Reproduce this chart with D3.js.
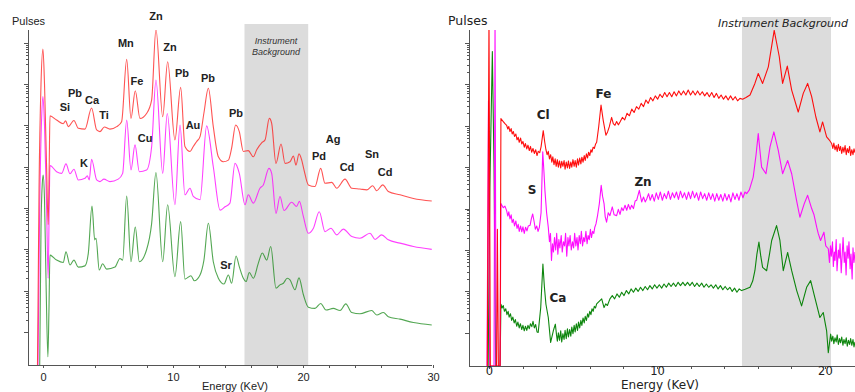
<!DOCTYPE html>
<html>
<head>
<meta charset="utf-8">
<script src="https://cdn.jsdelivr.net/npm/d3@7"></script>
<style>
  body { margin: 0; background: #fff; }
  svg { display: block; }
  .axis path, .axis line { stroke: #555; shape-rendering: crispEdges; }
  .spec { fill: none; stroke-linejoin: round; }
</style>
</head>
<body>
<script>
// spectra: [energy keV, log10 of pulses]
var leftRed = [[-0.42,0.2],[-0.3,4.5],[-0.15,7.0],[0,7.85],[0.12,7.0],[0.28,5.0],[0.4,3.6],[0.48,5.0],
  [0.54,6.23],[1.05,6.13],[1.56,6.04],[1.74,6.11],[1.95,5.97],[2.38,6.12],[2.72,5.93],[3.23,5.91],[3.74,6.42],
  [4.13,5.89],[4.38,5.85],[4.72,5.96],[5.15,5.91],[5.67,5.97],[6.05,6.09],[6.44,7.60],[6.77,6.17],[7.10,6.84],
  [7.46,6.17],[7.97,6.29],[8.36,6.62],[8.69,8.33],[9.21,6.21],[9.59,7.54],[10.15,5.65],[10.59,6.92],[10.92,5.49],
  [11.31,5.37],[11.56,5.49],[11.82,5.61],[12.08,5.73],[12.38,6.30],[12.72,6.90],[13.10,5.97],[13.49,5.24],
  [13.87,5.12],[14.26,5.16],[14.51,5.45],[14.82,6.01],[15.10,5.85],[15.41,5.37],[15.79,5.39],[16.18,5.24],
  [16.44,5.41],[16.82,5.58],[17.08,5.65],[17.41,6.17],[17.59,6.05],[17.92,5.08],[18.31,5.55],[18.62,5.08],
  [19.0,5.12],[19.26,5.26],[19.46,5.04],[19.69,5.31],[19.90,5.16],[20.08,4.92],[20.41,4.56],[20.92,4.52],
  [21.36,4.96],[21.69,4.60],[22.21,4.62],[22.59,4.48],[23.23,4.70],[23.75,4.48],[24.38,4.46],[24.90,4.44],
  [25.36,4.54],[25.67,4.42],[26.13,4.56],[26.56,4.40],[27.46,4.32],[28.49,4.23],[29.9,4.17]];

var leftMagenta = [[-0.38,0.2],[-0.25,4.0],[-0.1,6.2],[0,6.7],[0.12,6.0],[0.28,4.0],[0.4,2.3],[0.48,4.0],
  [0.54,5.03],[1.05,4.88],[1.44,4.84],[1.77,5.07],[2.08,4.83],[2.38,4.94],[2.72,4.68],[3.23,4.72],[3.41,4.78],
  [3.56,4.68],[3.74,5.18],[4.13,4.68],[4.38,4.64],[4.69,4.70],[5.15,4.64],[5.79,4.70],[6.13,4.84],[6.44,6.13],
  [6.77,4.92],[7.08,5.53],[7.41,4.88],[7.97,4.92],[8.36,5.49],[8.69,7.10],[9.21,4.84],[9.56,6.29],[10.15,4.08],
  [10.54,6.01],[10.92,4.32],[11.31,4.48],[11.56,4.28],[12.08,4.20],[12.59,5.99],[13.10,5.00],[13.62,3.95],
  [14.0,4.03],[14.38,4.12],[14.77,5.08],[15.10,4.84],[15.54,4.08],[15.79,4.32],[16.18,4.12],[16.69,4.48],
  [16.95,4.56],[17.38,4.96],[17.59,4.84],[17.92,3.87],[18.23,4.28],[18.54,3.94],[19.13,4.14],[19.51,4.04],
  [19.72,4.16],[20.03,3.79],[20.41,3.39],[20.8,3.51],[21.25,3.91],[21.69,3.43],[22.15,3.51],[22.59,3.35],
  [23.1,3.49],[23.75,3.31],[24.38,3.27],[25.15,3.39],[25.54,3.24],[26.05,3.35],[26.56,3.23],[27.46,3.15],
  [28.49,3.07],[29.9,3.00]];

var leftGreen = [[-0.25,0.2],[-0.15,3.5],[-0.05,4.6],[0.02,4.8],[0.12,4.2],[0.25,2.0],[0.38,0.4],[0.46,1.5],
  [0.54,2.86],[1.05,2.74],[1.56,2.68],[1.77,2.94],[2.08,2.62],[2.38,2.74],[2.72,2.57],[3.23,2.60],[3.49,2.91],
  [3.77,4.05],[3.98,3.23],[4.08,3.27],[4.33,2.50],[4.59,2.65],[4.90,2.52],[5.54,2.57],[5.92,2.78],[6.13,2.74],
  [6.44,4.29],[6.77,2.70],[7.10,3.54],[7.41,2.70],[7.97,2.99],[8.36,3.63],[8.69,4.86],[9.21,2.70],[9.59,4.08],
  [10.15,2.34],[10.59,3.67],[10.92,2.28],[11.38,2.36],[11.64,2.24],[12.08,2.38],[12.38,2.74],[12.72,3.63],
  [13.10,2.70],[13.49,2.30],[13.92,2.16],[14.26,2.38],[14.51,2.18],[14.85,2.84],[15.10,2.58],[15.41,2.30],
  [15.62,2.22],[15.87,2.44],[16.18,2.30],[16.56,2.66],[16.87,2.91],[17.21,2.74],[17.52,3.07],[17.92,2.06],
  [18.23,2.14],[18.49,2.18],[18.79,2.30],[19.0,2.26],[19.38,2.02],[19.69,2.31],[20.03,1.90],[20.41,1.60],
  [20.92,1.57],[21.36,1.69],[21.77,1.53],[22.33,1.57],[22.85,1.52],[23.29,1.68],[23.75,1.47],[24.38,1.44],
  [25.28,1.52],[25.67,1.41],[26.18,1.47],[26.56,1.37],[27.46,1.31],[28.49,1.23],[29.9,1.17]];

var rightRed = [[-0.1,0.2],[0,8.6],[0.08,0.2],[0.45,0.2],[0.5,3.5],[0.56,0.2],[0.66,0.2],
  [0.71,6.17],[0.85,6.1],[0.95,6.05],[1.05,6.01],[1.12,5.92],[1.18,5.98],[1.25,5.86],[1.32,5.93],[1.38,5.8],
  [1.45,5.86],[1.52,5.74],[1.6,5.8],[1.67,5.66],[1.74,5.72],[1.8,5.6],[1.88,5.7],[1.95,5.56],[2.02,5.62],
  [2.1,5.48],[2.17,5.57],[2.25,5.44],[2.32,5.53],[2.4,5.4],[2.47,5.5],[2.54,5.36],[2.62,5.45],[2.7,5.33],
  [2.78,5.42],[2.86,5.28],[2.93,5.38],[3.02,5.35],[3.1,5.49],[3.23,5.88],[3.32,5.6],[3.39,5.42],[3.46,5.3],
  [3.53,5.38],[3.6,5.2],[3.67,5.3],[3.74,5.12],[3.8,5.25],[3.87,5.06],[3.94,5.2],[4.0,5.02],[4.07,5.18],
  [4.13,5.0],[4.2,5.15],[4.27,4.98],[4.33,5.14],[4.4,5.02],[4.47,5.16],[4.53,4.95],[4.6,5.12],[4.67,4.98],
  [4.73,5.15],[4.8,4.97],[4.87,5.12],[4.93,5.0],[5.0,5.18],[5.07,5.02],[5.13,5.16],[5.2,5.0],[5.27,5.2],
  [5.33,5.05],[5.4,5.22],[5.47,5.08],[5.53,5.24],[5.6,5.12],[5.67,5.28],[5.73,5.16],[5.8,5.32],[5.87,5.22],
  [5.93,5.36],[6.0,5.28],[6.07,5.42],[6.13,5.36],[6.2,5.48],[6.27,5.45],[6.34,5.55],[6.41,5.6],
  [6.53,5.97],[6.67,6.50],[6.8,6.13],[6.96,5.77],[7.06,5.85],[7.16,5.97],[7.30,6.20],[7.4,6.05],[7.5,6.01],
  [7.6,6.1],[7.7,6.02],[7.8,6.09],[7.94,6.2],[8.08,6.14],[8.22,6.3],[8.36,6.24],[8.5,6.4],[8.64,6.32],
  [8.78,6.46],[8.92,6.4],[9.06,6.54],[9.2,6.46],[9.34,6.62],[9.48,6.54],[9.62,6.68],[9.76,6.6],[9.9,6.72],
  [10.04,6.64],[10.18,6.76],[10.32,6.68],[10.46,6.8],[10.6,6.7],[10.74,6.8],[10.88,6.7],[11.02,6.82],
  [11.16,6.72],[11.3,6.84],[11.44,6.74],[11.58,6.84],[11.72,6.74],[11.86,6.86],[12.0,6.74],[12.14,6.84],
  [12.28,6.74],[12.42,6.84],[12.56,6.74],[12.7,6.82],[12.84,6.72],[12.98,6.8],[13.12,6.7],[13.26,6.8],
  [13.4,6.68],[13.54,6.78],[13.68,6.66],[13.82,6.74],[13.96,6.64],[14.1,6.72],[14.24,6.62],[14.38,6.72],
  [14.52,6.62],[14.66,6.7],[14.8,6.6],[14.94,6.66],[15.1,6.64],[15.3,6.68],
  [15.54,6.74],[15.83,7.02],[16.03,7.26],[16.29,7.02],[16.63,7.42],
  [16.98,8.30],[17.28,7.67],[17.48,7.02],[17.76,7.44],[18.02,6.86],[18.41,6.33],[18.71,6.78],[18.97,7.02],
  [19.21,6.70],[19.46,6.21],[19.70,5.85],[19.86,6.09],[20.1,5.73],[20.25,5.66],
  [20.4,5.57],[20.47,5.45],[20.53,5.58],[20.6,5.42],[20.67,5.52],[20.73,5.38],[20.8,5.55],[20.87,5.4],
  [20.93,5.5],[21.0,5.33],[21.07,5.48],[21.13,5.36],[21.2,5.52],[21.27,5.3],[21.33,5.45],[21.4,5.35],
  [21.47,5.5],[21.53,5.28],[21.6,5.42],[21.67,5.3],[21.73,5.44],[21.79,5.35]];

var rightMagenta = [[-0.12,0.2],[-0.03,6.6],[0.04,0.2],[0.3,0.2],[0.36,8.6],[0.42,0.2],[0.66,0.2],
  [0.71,4.12],[0.85,4.02],[0.95,4.06],[1.05,3.95],[1.12,3.82],[1.18,3.92],[1.25,3.75],[1.32,3.85],[1.38,3.66],
  [1.45,3.74],[1.52,3.58],[1.6,3.7],[1.67,3.52],[1.74,3.62],[1.8,3.45],[1.88,3.58],[1.95,3.44],[2.02,3.56],
  [2.1,3.4],[2.18,3.55],[2.26,3.46],[2.34,3.58],[2.45,3.6],[2.52,3.75],[2.6,3.87],[2.68,3.7],[2.76,3.5],
  [2.84,3.58],[2.92,3.45],[3.0,3.55],[3.1,3.9],[3.2,5.37],[3.27,4.9],[3.33,4.44],[3.43,3.9],
  [3.53,3.55],[3.6,3.2],[3.66,3.4],[3.72,2.75],[3.78,3.15],[3.84,2.95],[3.9,3.3],[3.97,3.0],[4.03,3.4],
  [4.1,2.9],[4.16,3.25],[4.22,3.05],[4.3,3.35],[4.36,2.95],[4.43,3.2],[4.5,3.1],[4.56,3.4],[4.63,2.85],
  [4.7,3.3],[4.76,3.1],[4.83,3.35],[4.9,3.0],[4.97,3.2],[5.04,3.05],[5.1,3.4],[5.17,3.1],[5.24,3.3],[5.3,3.0],
  [5.37,3.35],[5.44,3.15],[5.5,3.45],[5.57,3.1],[5.64,3.3],[5.7,3.2],[5.77,3.45],[5.84,3.15],[5.9,3.35],
  [5.97,3.25],[6.04,3.5],[6.1,3.3],[6.17,3.45],[6.24,3.4],[6.3,3.55],[6.37,3.63],[6.47,3.85],[6.57,4.12],
  [6.68,4.56],[6.76,4.3],[6.85,4.12],[6.92,3.8],[7.0,3.67],[7.1,3.9],[7.2,3.83],[7.34,4.04],[7.45,3.85],
  [7.6,3.83],[7.7,3.98],[7.8,3.86],[7.9,4.02],[7.99,3.95],[8.1,4.08],[8.2,3.96],[8.3,4.1],[8.4,3.98],
  [8.49,4.08],[8.6,4.0],[8.7,4.18],[8.79,4.20],[8.95,4.44],[9.09,4.16],[9.2,4.28],[9.3,4.16],
  [9.39,4.23],[9.5,4.36],[9.6,4.2],[9.72,4.34],[9.84,4.18],[9.96,4.38],[10.08,4.22],[10.2,4.4],[10.32,4.2],
  [10.44,4.36],[10.56,4.24],[10.68,4.42],[10.8,4.22],[10.92,4.38],[11.04,4.26],[11.16,4.4],[11.28,4.22],
  [11.4,4.42],[11.52,4.26],[11.64,4.38],[11.76,4.22],[11.88,4.4],[12.0,4.24],[12.12,4.42],[12.24,4.26],
  [12.36,4.38],[12.48,4.2],[12.6,4.4],[12.72,4.24],[12.84,4.36],[12.96,4.2],[13.08,4.38],[13.2,4.22],
  [13.32,4.36],[13.44,4.18],[13.56,4.36],[13.68,4.2],[13.8,4.34],[13.92,4.18],[14.04,4.36],[14.16,4.2],
  [14.28,4.34],[14.4,4.16],[14.52,4.38],[14.64,4.22],[14.76,4.36],[14.88,4.2],[15.0,4.4],[15.12,4.26],
  [15.24,4.4],[15.34,4.36],[15.5,4.45],[15.73,4.76],[15.9,5.3],[16.03,5.81],[16.13,5.4],[16.23,5.00],
  [16.49,4.84],[16.73,5.49],[16.96,5.85],[17.22,5.41],[17.48,4.84],[17.78,5.16],[18.02,4.84],[18.31,4.20],
  [18.51,3.79],[18.77,4.12],[18.97,4.32],[19.21,4.00],[19.35,3.85],[19.51,3.55],[19.6,3.4],[19.74,3.23],
  [19.94,3.43],[20.05,3.1],[20.2,3.03],[20.27,2.7],[20.33,3.1],[20.38,2.85],[20.45,3.2],[20.5,2.6],
  [20.56,2.95],[20.6,2.75],[20.67,3.25],[20.72,2.5],[20.8,3.0],[20.85,2.8],[20.9,3.15],[20.97,2.45],
  [21.03,2.9],[21.08,3.3],[21.15,2.7],[21.2,2.95],[21.26,2.4],[21.32,3.1],[21.38,2.8],[21.43,3.2],[21.5,2.55],
  [21.55,2.9],[21.62,2.3],[21.67,3.05],[21.73,2.7],[21.79,2.95]];

var rightGreen = [[-0.05,0.2],[0.05,4.5],[0.2,7.79],[0.3,5.0],[0.4,0.2],[0.66,0.2],
  [0.71,1.69],[0.78,1.6],[0.85,1.66],[0.92,1.52],[1.0,1.58],[1.07,1.44],[1.14,1.52],[1.2,1.38],[1.28,1.46],
  [1.35,1.3],[1.42,1.38],[1.5,1.24],[1.57,1.32],[1.65,1.16],[1.72,1.26],[1.8,1.12],[1.87,1.22],[1.95,1.08],
  [2.02,1.18],[2.1,1.05],[2.17,1.16],[2.25,1.06],[2.32,1.18],[2.4,1.1],[2.47,1.22],[2.55,1.15],[2.62,1.28],
  [2.7,1.12],[2.78,1.2],[2.86,1.02],[2.93,1.01],[3.08,1.61],[3.21,2.66],[3.3,2.1],
  [3.39,1.69],[3.53,1.37],[3.67,0.77],[3.83,1.05],[3.95,1.21],[4.02,0.95],[4.07,0.8],[4.13,1.0],[4.2,0.82],
  [4.27,1.05],[4.33,0.78],[4.4,0.98],[4.47,0.84],[4.53,1.06],[4.6,0.86],[4.67,1.1],[4.73,0.9],[4.8,1.08],
  [4.87,0.92],[4.93,1.14],[5.0,0.98],[5.07,1.18],[5.13,1.02],[5.2,1.22],[5.27,1.06],[5.33,1.26],[5.4,1.12],
  [5.47,1.3],[5.53,1.18],[5.6,1.36],[5.67,1.24],[5.73,1.4],[5.8,1.3],[5.87,1.46],[5.93,1.38],[6.0,1.52],
  [6.07,1.44],[6.13,1.58],[6.2,1.52],[6.27,1.64],[6.34,1.6],[6.41,1.7],
  [6.71,1.82],[6.85,1.61],[6.95,1.7],[7.05,1.66],
  [7.2,1.82],[7.34,1.9],[7.48,1.82],[7.62,1.94],[7.76,1.86],[7.9,1.98],[8.04,1.9],[8.18,2.02],[8.32,1.94],
  [8.46,2.06],[8.6,1.98],[8.74,2.08],[8.88,2.0],[9.02,2.1],[9.16,2.02],[9.3,2.12],[9.44,2.04],[9.58,2.14],
  [9.72,2.06],[9.86,2.16],[10.0,2.08],[10.14,2.16],[10.28,2.08],[10.42,2.18],[10.56,2.1],[10.7,2.2],
  [10.84,2.12],[10.98,2.2],[11.12,2.12],[11.26,2.22],[11.4,2.14],[11.54,2.22],[11.68,2.14],[11.82,2.22],
  [11.96,2.14],[12.1,2.22],[12.24,2.12],[12.38,2.2],[12.52,2.12],[12.66,2.2],[12.8,2.1],[12.94,2.18],
  [13.08,2.1],[13.22,2.16],[13.36,2.08],[13.5,2.16],[13.64,2.06],[13.78,2.14],[13.92,2.04],[14.06,2.12],
  [14.2,2.04],[14.34,2.1],[14.48,2.0],[14.62,2.08],[14.76,1.98],[14.9,2.06],[15.04,2.02],[15.25,2.05],
  [15.54,2.10],[15.7,2.25],[15.83,2.50],[15.95,2.9],[16.07,3.19],[16.18,2.85],[16.29,2.58],[16.53,2.50],
  [16.7,2.9],[16.83,3.23],[17.12,3.59],[17.32,3.23],[17.52,2.50],[17.78,2.94],[18.02,2.50],
  [18.32,2.02],[18.61,1.65],[18.91,2.10],[19.15,2.26],[19.40,1.85],[19.70,1.37],[19.90,1.49],[20.10,1.05],
  [20.2,0.52],[20.34,0.97],[20.4,0.8],[20.47,0.92],[20.53,0.74],[20.6,0.88],[20.67,0.78],[20.73,0.95],
  [20.8,0.72],[20.87,0.86],[20.93,0.76],[21.0,0.9],[21.07,0.7],[21.13,0.84],[21.2,0.74],[21.27,0.88],
  [21.33,0.68],[21.4,0.82],[21.47,0.72],[21.53,0.86],[21.6,0.7],[21.67,0.84],[21.73,0.66],[21.79,0.78]];

// element labels [text, energy, log10 pulses]
var leftLabels = [["Zn",8.69,8.65],["Mn",6.38,7.99],["Zn",9.77,7.89],["Fe",7.23,7.07],["Pb",10.69,7.26],
  ["Pb",12.69,7.14],["Pb",14.85,6.30],["Au",11.54,6.01],["Cu",7.85,5.70],["Si",1.69,6.45],["Pb",2.46,6.79],
  ["Ca",3.77,6.62],["Ti",4.69,6.26],["K",3.15,5.08],["Pd",21.23,5.27],["Ag",22.31,5.66],["Cd",23.38,4.99],
  ["Sn",25.31,5.31],["Cd",26.31,4.87],["Sr",14.08,2.62]];
var rightLabels = [["Cl",3.23,6.27],["Fe",6.82,6.76],["Zn",9.17,4.63],["S",2.56,4.44],["Ca",4.11,1.85]];

var bands = { left: [15.5, 20.4], right: [15.06, 20.36] };
var xTicks = { left: d3.range(0, 31, 2), right: d3.range(0, 22, 2) };

var W = 855, H = 392;
var svg = d3.select("body").append("svg").attr("width", W).attr("height", H);

function pulses(v) { return Math.pow(10, v); }

// log ticks 1..9 per decade
var yTicks = [];
for (var k = 1; k <= 8; k++) for (var m = 1; m <= 9; m++) yTicks.push(m * Math.pow(10, k));
yTicks = yTicks.filter(function(t) { return t < pulses(8.3); });

function panel(cfg) {
  var x = d3.scaleLinear().domain(cfg.xdom).range([cfg.left, cfg.right]);
  var y = d3.scaleLog().domain([pulses(0.2), pulses(8.31)]).range([cfg.bottom, 30]);
  var g = svg.append("g");

  g.append("rect")
    .attr("x", x(cfg.band[0])).attr("y", cfg.bandTop)
    .attr("width", x(cfg.band[1]) - x(cfg.band[0]))
    .attr("height", cfg.bottom - cfg.bandTop)
    .attr("fill", "#dcdcdc");

  var clipId = "clip" + cfg.name;
  svg.append("clipPath").attr("id", clipId).append("rect")
    .attr("x", cfg.left).attr("y", 30)
    .attr("width", cfg.right - cfg.left).attr("height", cfg.bottom - 30);

  var line = d3.line()
    .x(function(d) { return x(d[0]); })
    .y(function(d) { return y(pulses(d[1])); })
    .curve(cfg.curve);

  cfg.series.forEach(function(s) {
    g.append("path").datum(s.data)
      .attr("class", "spec")
      .attr("clip-path", "url(#" + clipId + ")")
      .attr("stroke", s.color)
      .attr("stroke-width", cfg.lw)
      .attr("stroke-opacity", cfg.op)
      .attr("d", line);
  });

  // axes
  var xa = g.append("g").attr("class", "axis")
    .attr("transform", "translate(0," + cfg.bottom + ")")
    .call(d3.axisBottom(x).tickValues(cfg.ticks).tickSizeOuter(0).tickSize(3)
      .tickFormat(function(d) { return d % 10 === 0 ? d : ""; }));
  xa.selectAll("text").attr("font-family", cfg.font).attr("font-size", cfg.tfs)
    .attr("fill", "#222").attr("dy", cfg.tickDy);
  xa.select(".domain").attr("d", "M" + cfg.left + ",0.5H" + cfg.right);

  var ya = g.append("g").attr("class", "axis")
    .attr("transform", "translate(" + cfg.left + ",0)")
    .call(d3.axisLeft(y).tickValues(yTicks).tickSizeOuter(0).tickFormat(""));
  ya.selectAll(".tick line").attr("x2", function(d) {
    return Math.abs(Math.log10(d) % 1) < 1e-6 ? -4 : -2;
  });
  ya.select(".domain").attr("d", "M0.5,30V" + cfg.bottom);

  g.append("text").text("Pulses")
    .attr("x", cfg.pulsesX).attr("y", 25)
    .attr("font-family", cfg.font).attr("font-size", cfg.fs).attr("fill", "#222");
  g.append("text").text("Energy (KeV)")
    .attr("x", cfg.energyX).attr("y", cfg.energyY).attr("text-anchor", "middle")
    .attr("font-family", cfg.font).attr("font-size", cfg.efs).attr("fill", "#222");

  g.selectAll(".lbl").data(cfg.labels).enter().append("text")
    .attr("x", function(d) { return x(d[1]); })
    .attr("y", function(d) { return y(pulses(d[2])) + 4; })
    .attr("text-anchor", "middle")
    .attr("font-family", cfg.font).attr("font-weight", "bold")
    .attr("font-size", cfg.lfs).attr("fill", "#222")
    .text(function(d) { return d[0]; });

  return { x: x, y: y, g: g };
}

var L = panel({
  name: "L", xdom: [-1.15, 29.92], left: 28, right: 432, bottom: 365, bandTop: 24,
  band: bands.left, ticks: xTicks.left, font: "Liberation Sans, Arial, sans-serif", fs: 11, efs: 11, tfs: 11, lfs: 11,
  tickDy: "0.9em", lw: 1.1, op: 0.75, pulsesX: 12, energyX: 235, energyY: 390,
  curve: d3.curveMonotoneX, labels: leftLabels,
  series: [{data: leftGreen, color: "#1a8a1a"}, {data: leftMagenta, color: "#ff00ff"}, {data: leftRed, color: "#ff1a1a"}]
});
L.g.append("text").attr("x", 276).attr("y", 44).attr("text-anchor", "middle")
  .attr("font-family", "Liberation Sans, Arial, sans-serif").attr("font-style", "italic")
  .attr("font-size", 9).attr("fill", "#333").text("Instrument");
L.g.append("text").attr("x", 276).attr("y", 55).attr("text-anchor", "middle")
  .attr("font-family", "Liberation Sans, Arial, sans-serif").attr("font-style", "italic")
  .attr("font-size", 9).attr("fill", "#333").text("Background");

var R = panel({
  name: "R", xdom: [-1.19, 21.79], left: 469, right: 855, bottom: 366, bandTop: 17,
  band: bands.right, ticks: xTicks.right, font: "DejaVu Sans, Verdana, sans-serif", fs: 12.5, efs: 12, tfs: 11.5, lfs: 12,
  tickDy: "0.25em", lw: 1.1, op: 0.95, pulsesX: 448, energyX: 660, energyY: 389,
  curve: d3.curveLinear, labels: rightLabels,
  series: [{data: rightGreen, color: "#008000"}, {data: rightMagenta, color: "#ff00ff"}, {data: rightRed, color: "#ff0000"}]
});
R.g.append("text").attr("x", 783).attr("y", 27).attr("text-anchor", "middle")
  .attr("font-family", "DejaVu Sans, Verdana, sans-serif").attr("font-style", "italic")
  .attr("font-size", 11).attr("fill", "#222").text("Instrument Background");
</script>
</body>
</html>
